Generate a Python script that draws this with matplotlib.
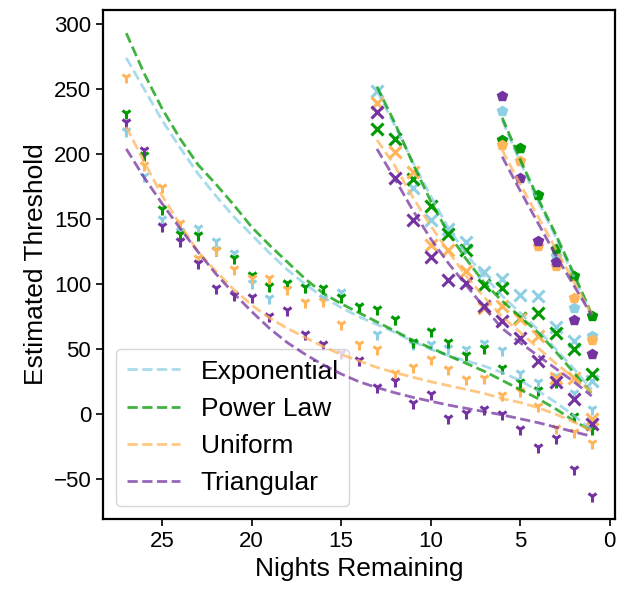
import matplotlib
matplotlib.use("Agg")
import matplotlib.pyplot as plt

plt.rcParams["font.family"] = ["Liberation Sans", "DejaVu Sans"]

names = ["Exponential", "Power Law", "Uniform", "Triangular"]
colors = ["#8ecfe3", "#009a00", "#ffb55a", "#7433a0"]

nights1 = list(range(27, 0, -1))
nights2 = list(range(13, 0, -1))
nights3 = list(range(6, 0, -1))

# simulated thresholds, first start (night 27)
tri_exp = [218, 183, 150.5, 141, 143, 133, 124, 101, 89.7, 101, 97.5, 89.7, 94, 83,
           61.5, 73, 53.8, 54, 51, 50.5, 55, 49.5, 31.5, 24.5, 29, 16, 3.8]
tri_pow = [232, 199, 158, 138.5, 137.7, 126, 120, 107, 98.7, 101, 97.5, 97, 90, 83,
           81, 73, 55.6, 64, 55.6, 45.4, 51, 35.5, 24.4, 19, 24.4, -1.3, -11.5]
tri_uni = [259, 192, 175, 147, 120, 126, 111.5, 105, 105, 96.6, 86, 86.7, 69, 54,
           50, 32, 36, 42.8, 34.6, 27, 28, 15, 17.5, 6.5, -10.5, -14, -21.8]
tri_tri = [225, 203, 145, 133, 116, 97, 92, 90.5, 75.6, 80, 61.5, 54, 47, 42,
           21, 25.6, 9, 15.4, -2.6, 1.3, 3.7, 0, -11, -25, -18, -42, -62.8]

# second start (night 13)
x_exp = [248.7, 211.5, 173.6, 149.5, 142.8, 132.6, 109, 103.8, 91.5, 91, 66.7, 56.4, 25.6]
x_pow = [219.7, 211.5, 180.8, 160, 138.5, 126, 99, 96.7, 74, 78, 62.8, 50.5, 30.8]
x_uni = [239.7, 201.8, 186.4, 130, 126, 110, 82, 83, 73.6, 60, 28, 28, -3.8]
x_tri = [232.6, 182, 149.5, 121, 103, 100.8, 83.3, 71.5, 58.5, 41, 24.4, 11.5, -7.7]

# third start (night 6)
p_exp = [233, 205, 168.5, 122, 81.8, 60]
p_pow = [210.8, 205, 168.5, 127, 106, 75.6]
p_uni = [207, 195, 129, 114, 89, 57]
p_tri = [244.4, 182, 133, 116.7, 72.5, 46]

# model curves
l1_exp = [274, 250, 226, 205, 185, 168, 152, 138, 124, 111, 100, 90, 82, 75, 69, 63,
          56, 50, 45, 41, 37, 32, 26, 18, 9, -1, -12]
l1_pow = [293, 262, 235, 212, 192, 177, 161, 144, 130, 117, 104, 93, 85, 78, 71, 64,
          57, 51, 45, 39, 33, 26, 19, 12, 4, -5, -13]
l1_uni = [221, 194, 168, 146, 125, 110, 96, 84, 74, 66, 59, 52, 46, 41, 36, 32,
          28.5, 25, 22, 19, 16, 12, 9, 5, 0, -6, -13]
l1_tri = [204, 182, 162, 143, 125, 108, 93, 79, 66, 55, 46, 38, 31, 25, 20.5, 16.5,
          13, 10, 7, 4.5, 2, -0.5, -3.5, -6.5, -10, -13.5, -17]

l2_exp = [249, 222, 194, 168, 143, 123, 106, 91, 78, 65, 50, 35, 19]
l2_pow = [252, 224, 193, 164, 139, 119, 101, 87, 75, 63, 48, 32, 16]
l2_uni = [211, 191, 167, 145, 125, 106, 90, 75, 63, 51, 39, 28, 17]
l2_tri = [204, 181, 157, 135, 116, 99, 82, 66, 55, 45, 35, 25, 14]

l3_exp = [226, 194, 164, 136, 106, 76]
l3_pow = [228, 196, 166, 138, 108, 77]
l3_uni = [203, 177, 152, 127, 102, 77]
l3_tri = [198, 172, 147, 122, 99, 76]


def plot():
    fig = plt.figure(figsize=(6.18, 5.92), dpi=100)
    ax = fig.add_axes([0.1667, 0.1233, 0.8284, 0.8597])

    tris = [tri_exp, tri_pow, tri_uni, tri_tri]
    xs = [x_exp, x_pow, x_uni, x_tri]
    ps = [p_exp, p_pow, p_uni, p_tri]
    l1 = [l1_exp, l1_pow, l1_uni, l1_tri]
    l2 = [l2_exp, l2_pow, l2_uni, l2_tri]
    l3 = [l3_exp, l3_pow, l3_uni, l3_tri]

    for i in range(4):
        c = colors[i]
        ax.plot(nights1, tris[i], "1", color=c, ms=8, mew=2.2, zorder=2 + i)
        ax.plot(nights2, xs[i], "x", color=c, ms=8, mew=2.2, zorder=2 + i)
        ax.plot(nights3, ps[i], "p", color=c, ms=7.5, zorder=2 + i)

    for i in range(4):
        c = colors[i]
        ax.plot(nights1, l1[i], "--", color=c, lw=2, alpha=0.75, label=names[i], zorder=6)
        ax.plot(nights2, l2[i], "--", color=c, lw=2, alpha=0.75, zorder=6)
        ax.plot(nights3, l3[i], "--", color=c, lw=2, alpha=0.75, zorder=6)

    ax.invert_xaxis()
    ax.set_xticks([25, 20, 15, 10, 5, 0])
    ax.set_yticks([-50, 0, 50, 100, 150, 200, 250, 300])
    ax.tick_params(labelsize=16, width=1.2, length=5)
    for s in ax.spines.values():
        s.set_linewidth(1.6)
    ax.set_xlabel("Nights Remaining", fontsize=19)
    ax.set_ylabel("Estimated Threshold", fontsize=19)
    ax.legend(loc="lower left", fontsize=19)

    fig.savefig("out.png", dpi=100)


if __name__ == "__main__":
    plot()
